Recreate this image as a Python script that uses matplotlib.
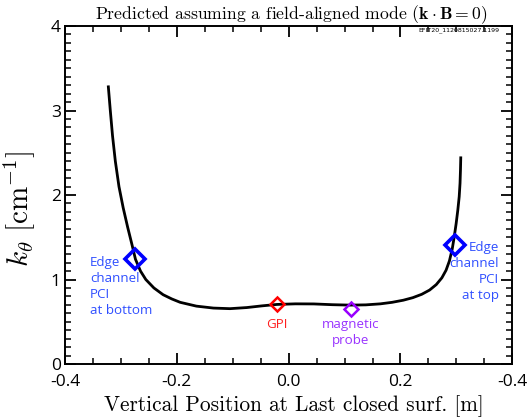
import matplotlib
matplotlib.use("Agg")
import matplotlib.pyplot as plt
from matplotlib.ticker import MultipleLocator

plt.rcParams['mathtext.fontset'] = 'cm'

# k_theta curve
pos = [-0.3225, -0.3190, -0.3150, -0.3100, -0.3035, -0.2960, -0.2880, -0.2805,
       -0.2740, -0.2650, -0.2555, -0.2410, -0.2245, -0.2090, -0.1940, -0.1650,
       -0.1345, -0.1050, -0.0750, -0.0480, -0.0210, 0.0120, 0.0450, 0.0780,
       0.1100, 0.1380, 0.1640, 0.1850, 0.2050, 0.2220, 0.2380, 0.2520, 0.2640,
       0.2740, 0.2815, 0.2875, 0.2925, 0.2960, 0.2995, 0.3025, 0.3050, 0.3065,
       0.3073, 0.3078]
ktheta = [3.28, 3.00, 2.70, 2.40, 2.10, 1.85, 1.62, 1.42,
          1.24, 1.10, 1.00, 0.90, 0.82, 0.77, 0.73, 0.685,
          0.662, 0.655, 0.668, 0.688, 0.705, 0.712, 0.711, 0.702,
          0.697, 0.700, 0.712, 0.730, 0.755, 0.785, 0.825, 0.875, 0.940,
          1.02, 1.11, 1.22, 1.36, 1.50, 1.66, 1.82, 1.98, 2.14,
          2.30, 2.44]

pci_pos = [-0.2750, 0.2983]
pci_k = [1.24, 1.41]
gpi_pos = [-0.021]
gpi_k = [0.707]
probe_pos = [0.1115]
probe_k = [0.652]

xticks = [-0.4, -0.2, 0.0, 0.2, 0.4]
xticklabels = ['-0.4', '-0.2', '0.0', '0.2', '-0.4']
yticks = [0, 1, 2, 3, 4]

fig = plt.figure(figsize=(5.32, 4.2), dpi=100)
ax = fig.add_axes([0.1222, 0.1333, 0.8408, 0.8048])

ax.plot(pos, ktheta, color='black', lw=2.0)
ax.plot(pci_pos, pci_k, ls='none', marker='D', ms=10, mfc='none',
        mec='#0000ff', mew=2.6)
ax.plot(gpi_pos, gpi_k, ls='none', marker='D', ms=7, mfc='none',
        mec='#ff0000', mew=1.8)
ax.plot(probe_pos, probe_k, ls='none', marker='D', ms=7, mfc='none',
        mec='#9900ff', mew=1.8)

# labels next to the diagnostics
lab = dict(family='Open Sans', fontsize=9.6, linespacing=1.32)
ax.text(-0.355, 1.28, 'Edge\nchannel\nPCI\nat bottom', color='#2f4fff',
        ha='left', va='top', **lab)
ax.text(0.376, 1.46, 'Edge\nchannel\nPCI\nat top', color='#2f4fff',
        ha='right', va='top', multialignment='right', **lab)
ax.text(-0.021, 0.55, 'GPI', color='#ff2020', ha='center', va='top', **lab)
ax.text(0.110, 0.55, 'magnetic\nprobe', color='#9933ff', ha='center',
        va='top', **lab)
ax.text(0.377, 3.985, 'EFIT20_1120815027.1199', fontsize=4.5, ha='right',
        va='top', family='DejaVu Sans')

ax.set_xlim(-0.4, 0.4)
ax.set_ylim(0, 4)
ax.set_xticks(xticks)
ax.set_xticklabels(xticklabels)
ax.set_yticks(yticks)
ax.xaxis.set_minor_locator(MultipleLocator(0.05))
ax.yaxis.set_minor_locator(MultipleLocator(0.1))
ax.tick_params(which='both', direction='in', top=True, right=True,
               labelsize=12.5)
ax.tick_params(axis='x', pad=7)
ax.tick_params(axis='y', pad=3)
ax.tick_params(which='major', length=8, width=1.3)
ax.tick_params(which='minor', length=4.5, width=1.1)
for t in ax.get_xticklabels() + ax.get_yticklabels():
    t.set_family('Open Sans')
for s in ax.spines.values():
    s.set_linewidth(1.4)

ax.set_title(r'Predicted assuming a field-aligned mode $(\mathbf{k}\cdot\mathbf{B}=\mathbf{0})$',
             family='cmr10', fontsize=12.7, pad=4, x=0.505)
ax.set_xlabel('Vertical Position at Last closed surf. [m]', family='cmr10',
              fontsize=15.4, labelpad=4)
ax.xaxis.label.set_x(0.511)
ax.set_ylabel(r'$k_\theta\ [\mathrm{cm}^{-1}]$', fontsize=21)
ax.yaxis.set_label_coords(-0.063, 0.458)

fig.savefig('out.png', dpi=100)
